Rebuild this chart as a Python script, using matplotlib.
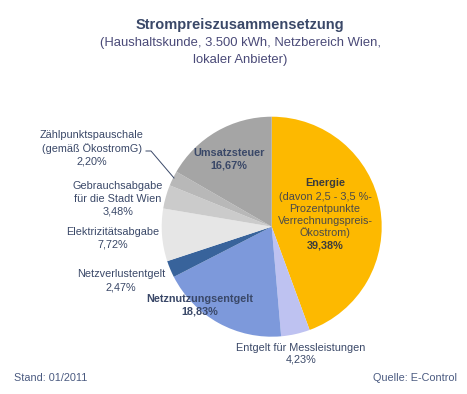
import matplotlib

matplotlib.use("Agg")
import matplotlib.pyplot as plt

plt.rcParams["font.family"] = ["Liberation Sans", "DejaVu Sans"]

# wedge sizes as drawn (Energie wedge includes the hidden Ökostrom part)
categories = [
    "Energie",
    "Entgelt für Messleistungen",
    "Netznutzungsentgelt",
    "Netzverlustentgelt",
    "Elektrizitätsabgabe",
    "Gebrauchsabgabe für die Stadt Wien",
    "Zählpunktspauschale (gemäß ÖkostromG)",
    "Umsatzsteuer",
]
shares = [44.40, 4.23, 18.83, 2.47, 7.72, 3.48, 2.20, 16.67]
pct_labels = ["39,38%", "4,23%", "18,83%", "2,47%", "7,72%", "3,48%", "2,20%", "16,67%"]
colors = ["#FDB900", "#BEC2F1", "#7D99DB", "#38639B", "#E6E6E6", "#CBCBCB", "#B8B8B8", "#A5A5A5"]

W, H = 467, 394
TXT = "#3A4868"
fig = plt.figure(figsize=(W / 100, H / 100), dpi=100)
ax = fig.add_axes([0, 0, 1, 1])


def Y(py):
    return H - py


ax.pie(shares, colors=colors, startangle=90, counterclock=False,
       center=(271.7, Y(226.7)), radius=110, frame=True,
       wedgeprops=dict(linewidth=0))
ax.set_xlim(0, W)
ax.set_ylim(0, H)
ax.set_aspect("auto")
ax.axis("off")

# title
ax.text(240, Y(25), "Strompreiszusammensetzung", ha="center", va="center",
        fontsize=10.5, fontweight="bold", color="#3A4868")
ax.text(240, Y(43), "(Haushaltskunde, 3.500 kWh, Netzbereich Wien,", ha="center",
        va="center", fontsize=9.4, color="#4A4A78")
ax.text(240, Y(60), "lokaler Anbieter)", ha="center", va="center", fontsize=9.4,
        color="#4A4A78")

fs = 7.8


def lab(x, py, s, bold=False, color=TXT):
    ax.text(x, Y(py), s, ha="center", va="center", fontsize=fs,
            fontweight="bold" if bold else "normal", color=color)


# Energie
lab(325, 183, "Energie", True, "#3C3C3C")
for i, s in enumerate(["(davon 2,5 - 3,5 %-", "Prozentpunkte", "Verrechnungspreis-", "Ökostrom)"]):
    lab(325, 197 + 12 * i, s, color="#4A4A4A")
lab(325, 245, pct_labels[0], True, "#3C3C3C")

# Umsatzsteuer
lab(229, 153, "Umsatzsteuer", True)
lab(229, 165, pct_labels[7], True)

# Netznutzungsentgelt
lab(200, 299, "Netznutzungsentgelt", True)
lab(200, 311, pct_labels[2], True)

# Messleistungen
lab(301, 348, "Entgelt für Messleistungen")
lab(301, 360, pct_labels[1])

# left side labels
lab(121, 274, "Netzverlustentgelt")
lab(121, 287, pct_labels[3])
lab(113, 232, "Elektrizitätsabgabe")
lab(113, 244, pct_labels[4])
lab(118, 186, "Gebrauchsabgabe")
lab(118, 199, "für die Stadt Wien")
lab(118, 211, pct_labels[5])
lab(92, 135, "Zählpunktspauschale")
lab(92, 149, "(gemäß ÖkostromG)")
lab(92, 161, pct_labels[6])

# leader line for Zählpunktspauschale
ax.plot([146, 151, 174], [Y(151), Y(151), Y(178)], color="#3A4868", lw=0.7)

# footer
ax.text(14, Y(378), "Stand: 01/2011", ha="left", va="center", fontsize=fs, color="#4A5A80")
ax.text(457, Y(378), "Quelle: E-Control", ha="right", va="center", fontsize=fs, color="#4A5A80")

fig.savefig("out.png", dpi=100)
